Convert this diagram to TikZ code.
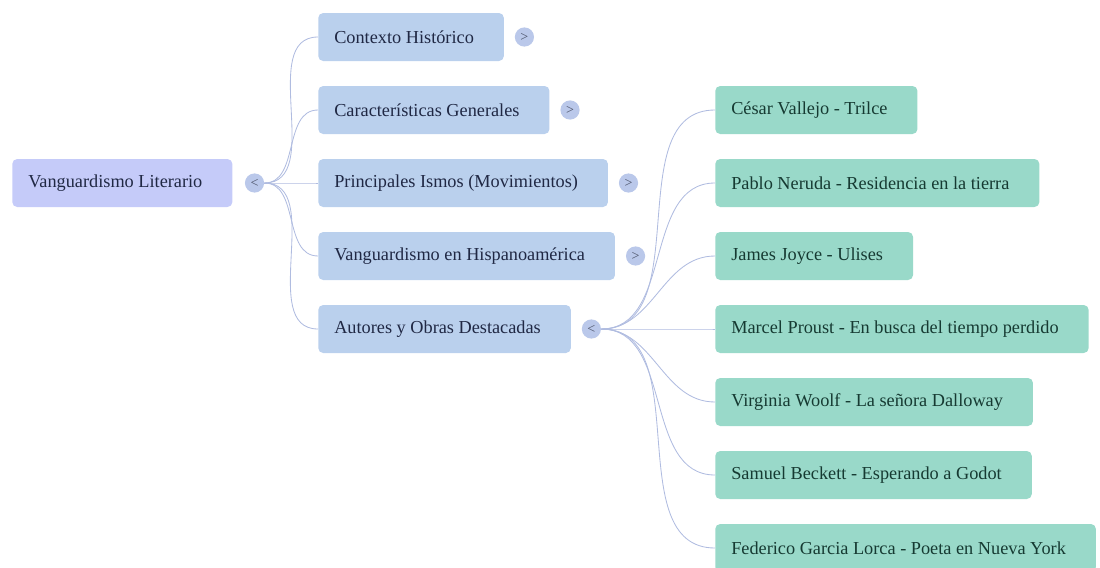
\documentclass[tikz,border=0pt]{standalone}
\usepackage{fontspec}
\setmainfont{Liberation Serif}
\usetikzlibrary{positioning}

\definecolor{rootfill}{RGB}{197,203,249}
\definecolor{topicfill}{RGB}{186,208,237}
\definecolor{workfill}{RGB}{153,217,201}
\definecolor{togfill}{RGB}{186,200,234}
\definecolor{linkcol}{RGB}{176,188,224}
\definecolor{topictext}{RGB}{32,40,68}
\definecolor{worktext}{RGB}{22,58,50}

\begin{document}
\begin{tikzpicture}[
    box/.style={rectangle,rounded corners=3.5pt,anchor=west,minimum height=1.2cm,
      inner xsep=0pt,font=\fontsize{13}{15}\selectfont,
      execute at begin node={\hspace*{0.4cm}},execute at end node={\hspace*{0.75cm}}},
    rootbox/.style={box,fill=rootfill,text=topictext},
    topicbox/.style={box,fill=topicfill,text=topictext},
    workbox/.style={box,fill=workfill,text=worktext},
    tog/.style={circle,fill=togfill,inner sep=0pt,minimum size=0.48cm,
      text=topictext!80,font=\fontsize{10}{10}\selectfont},
    link/.style={draw=linkcol,line width=0.6pt}]
  \useasboundingbox (0,0) rectangle (27.5,-14.2);
  % root
  \node[rootbox] (root) at (0.3,-4.575) {Vanguardismo Literario};
  \node[tog,right=0.3cm of root] (troot) {<};
  % first level
  \foreach \i/\t in {1/{Contexto Histórico},2/{Características Generales},
      3/{Principales Ismos (Movimientos)},4/{Vanguardismo en Hispanoamérica},
      5/{Autores y Obras Destacadas}}
    {\node[topicbox] (c\i) at (7.95,{-0.925-1.825*(\i-1)}) {\t};}
  \foreach \i in {1,...,4}
    {\node[tog,right=0.26cm of c\i] (tc\i) {>};}
  \node[tog,right=0.26cm of c5] (tc5) {<};
  % authors and works
  \foreach \j/\t in {1/{César Vallejo - Trilce},2/{Pablo Neruda - Residencia en la tierra},
      3/{James Joyce - Ulises},4/{Marcel Proust - En busca del tiempo perdido},
      5/{Virginia Woolf - La señora Dalloway},6/{Samuel Beckett - Esperando a Godot},
      7/{Federico Garcia Lorca - Poeta en Nueva York}}
    {\node[workbox] (a\j) at (17.875,{-2.75-1.825*(\j-1)}) {\t};}
  % connectors
  \foreach \i in {1,...,5}
    \draw[link] (troot.east) to[out=0,in=180] (c\i.west);
  \foreach \j in {1,...,7}
    \draw[link] (tc5.east) to[out=0,in=180] (a\j.west);
\end{tikzpicture}
\end{document}
